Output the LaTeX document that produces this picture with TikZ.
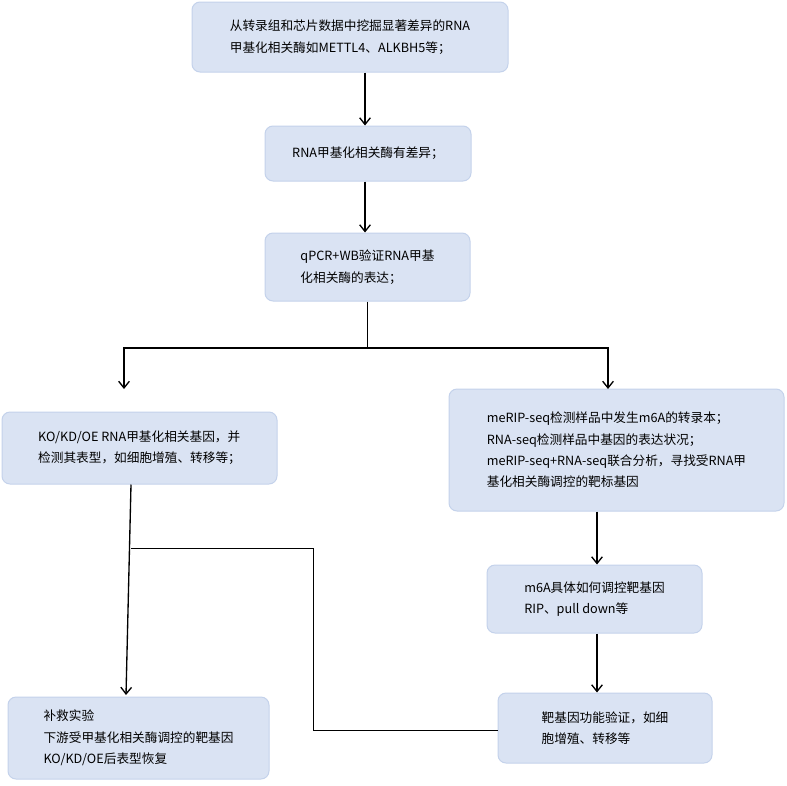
\documentclass[tikz,border=0pt]{standalone}
\usepackage{fontspec}
\newfontfamily\cjk{Noto Sans CJK SC}
\usetikzlibrary{arrows.meta}
\tikzset{every picture/.style={line width=0.75pt}}
\tikzset{box/.style={draw={rgb,255:red,196;green,210;blue,235},fill={rgb,255:red,218;green,227;blue,243},rounded corners=6pt,align=left,font=\cjk\fontsize{9.5}{16}\selectfont,inner sep=0pt},
  arr/.style={-{Straight Barb[length=5pt,width=8pt]},line width=1pt}}
\begin{document}
\begin{tikzpicture}[x=0.75pt,y=0.75pt,yscale=-1,xscale=1]
\useasboundingbox (0,0) rectangle (787,785);

% Boxes
\node [box,minimum width=237pt,minimum height=52.5pt] (mine) at (350,37) {从转录组和芯片数据中挖掘显著差异的RNA\\甲基化相关酶如METTL4、ALKBH5等；};
\node [box,minimum width=154.5pt,minimum height=41.25pt] (diff) at (368,153.5) {RNA甲基化相关酶有差异；};
\node [box,minimum width=153.75pt,minimum height=51pt] (qpcr) at (367.5,267) {qPCR+WB验证RNA甲基\\化相关酶的表达；};
\node [box,minimum width=206.25pt,minimum height=54pt] (ko) at (139.5,448) {KO/KD/OE RNA甲基化相关基因，并\\检测其表型，如细胞增殖、转移等；};
\node [box,minimum width=251.25pt,minimum height=91.5pt] (seq) at (616.5,450) {meRIP-seq检测样品中发生m6A的转录本；\\RNA-seq检测样品中基因的表达状况；\\meRIP-seq+RNA-seq联合分析，寻找受RNA甲\\基化相关酶调控的靶标基因};
\node [box,minimum width=161.25pt,minimum height=51pt] (rip) at (594.5,599) {m6A具体如何调控靶基因\\RIP、pull down等};
\node [box,minimum width=195.75pt,minimum height=61.5pt] (rescue) at (138.5,738) {补救实验\\下游受甲基化相关酶调控的靶基因\\KO/KD/OE后表型恢复};
\node [box,minimum width=160.5pt,minimum height=52.5pt] (func) at (605,728) {靶基因功能验证，如细\\胞增殖、转移等};

% Connectors
\coordinate (split) at (367,348);
\coordinate (join) at (131,548);
\draw [arr] (mine.south -| 365,0) -- (diff.north -| 365,0);
\draw [arr] (diff.south -| 365,0) -- (qpcr.north -| 365,0);
\draw (qpcr.south -| split) -- (split);
\draw [arr] (split) -- (124,348) -- (124,389);
\draw [arr] (split) -- (608,348) -- (608,389);
\draw [arr] (seq.south -| 597,0) -- (rip.north -| 597,0);
\draw [arr] (rip.south -| 597,0) -- (func.north -| 597,0);
\draw [arr] (ko.south -| join) -- (126,695);
\draw (join) -- (313,548) -- (313,730) -- (func.west |- 0,730);
\end{tikzpicture}
\end{document}
